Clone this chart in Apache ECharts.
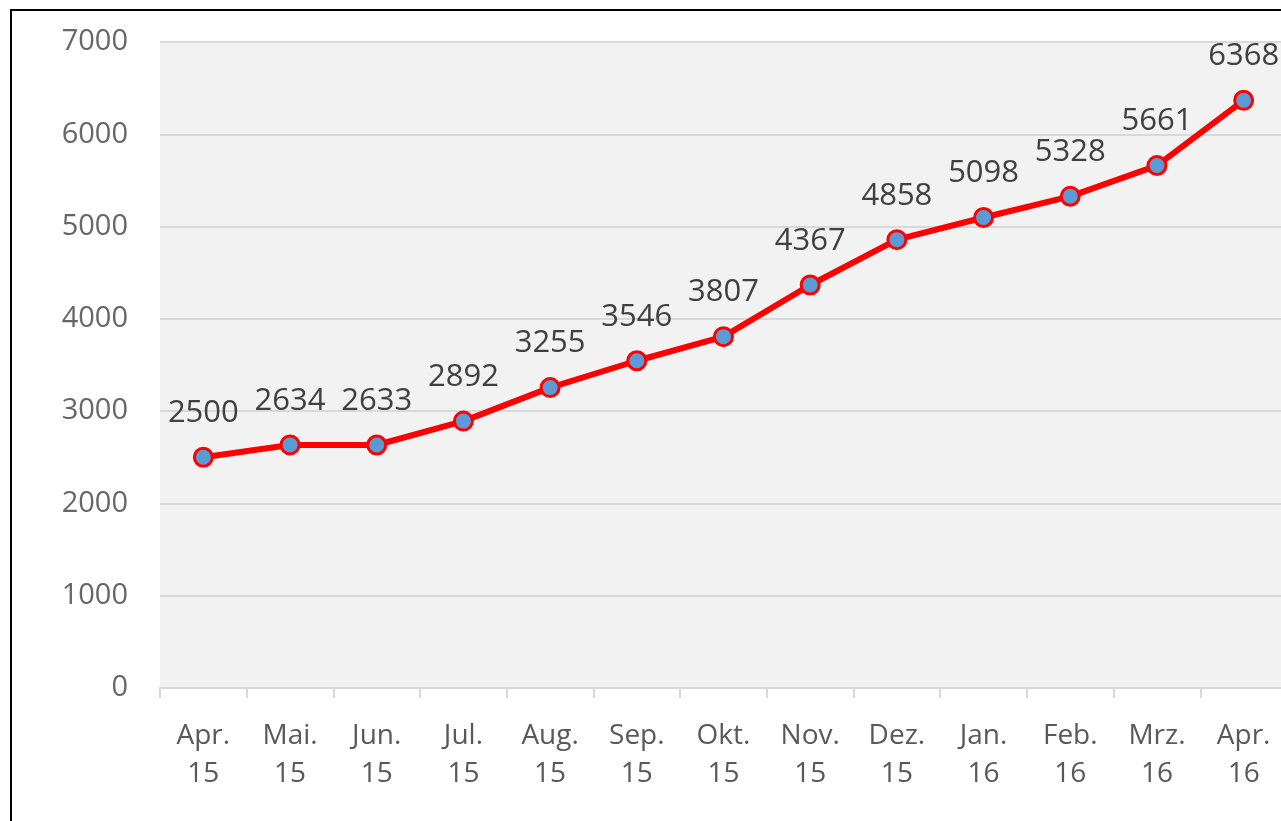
<html>
<head>
    <meta charset="utf-8">
    <title>ECharts</title>
    <script src="https://cdn.jsdelivr.net/npm/echarts@6/dist/echarts.min.js"></script>
</head>
<body style="margin:0;background:#fff;">
<div id="main" style="width:1281px;height:821px;"></div>
<script type="text/javascript">
    // Daten
    var months = ['Apr.', 'Mai.', 'Jun.', 'Jul.', 'Aug.', 'Sep.', 'Okt.', 'Nov.', 'Dez.', 'Jan.', 'Feb.', 'Mrz.', 'Apr.'];
    var years = ['15', '15', '15', '15', '15', '15', '15', '15', '15', '16', '16', '16', '16'];
    var values = [2500, 2634, 2633, 2892, 3255, 3546, 3807, 4367, 4858, 5098, 5328, 5661, 6368];

    var categories = [];
    for (var i = 0; i < months.length; i++) {
        categories.push(months[i] + '\n' + years[i]);
    }

    var myChart = echarts.init(document.getElementById('main'));

    var font = '"Open Sans", "Noto Sans", sans-serif';

    var option = {
        animation: false,
        graphic: [{
            type: 'rect',
            shape: { x: 11, y: 10, width: 1400, height: 1000 },
            style: { fill: 'none', stroke: '#000', lineWidth: 2 },
            silent: true
        }],
        grid: {
            left: 160,
            top: 42,
            right: -6,
            bottom: 133,
            outerBoundsMode: 'none',
            show: true,
            backgroundColor: '#f2f2f2',
            borderWidth: 0
        },
        xAxis: {
            type: 'category',
            data: categories,
            boundaryGap: true,
            axisLine: { lineStyle: { color: '#d9d9d9', width: 2 } },
            axisTick: { show: true, length: 10, lineStyle: { color: '#d9d9d9', width: 2 } },
            axisLabel: {
                color: '#595959',
                fontSize: 28,
                fontFamily: font,
                lineHeight: 38,
                margin: 29,
                interval: 0
            }
        },
        yAxis: {
            type: 'value',
            min: 0,
            max: 7000,
            interval: 1000,
            axisLine: { show: false },
            axisTick: { show: false },
            splitLine: { lineStyle: { color: '#d9d9d9', width: 2 } },
            axisLabel: {
                color: '#666666',
                fontSize: 29,
                fontFamily: font,
                margin: 32,
                formatter: function (v) { return String(v); }
            }
        },
        series: [{
            type: 'line',
            data: values,
            symbol: 'circle',
            symbolSize: 18,
            lineStyle: { color: '#ff0000', width: 6 },
            itemStyle: { color: '#5b9bd5', borderColor: '#ff0000', borderWidth: 3 },
            label: {
                show: true,
                position: 'top',
                distance: 18,
                color: '#404040',
                fontSize: 31,
                fontFamily: font
            }
        }]
    };

    myChart.setOption(option);
</script>
</body>
</html>
